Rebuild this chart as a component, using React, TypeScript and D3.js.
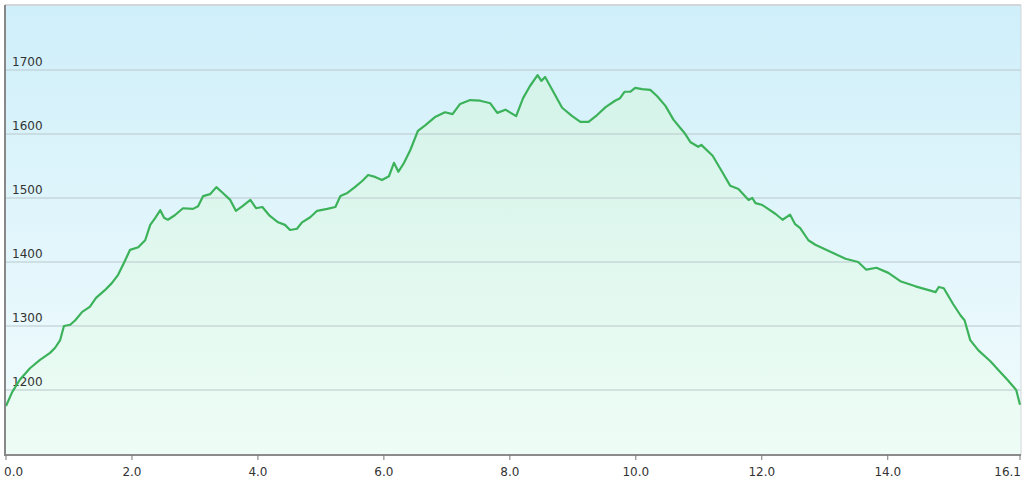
import React from "react";
import * as d3 from "d3";

const distanceKm = [
  0.0, 0.1, 0.22, 0.38, 0.54, 0.7, 0.78, 0.86, 0.92, 1.02, 1.1, 1.21, 1.33, 1.43, 1.57, 1.68, 1.78, 1.87, 1.97,
  2.1, 2.21, 2.29, 2.37, 2.45, 2.51, 2.57, 2.68, 2.81, 2.97, 3.05, 3.13, 3.24, 3.34, 3.43, 3.56, 3.65, 3.75, 3.88,
  3.97, 4.07, 4.19, 4.32, 4.43, 4.51, 4.62, 4.7, 4.83, 4.94, 5.1, 5.23, 5.31, 5.42, 5.54, 5.66, 5.75, 5.86, 5.97,
  6.08, 6.16, 6.23, 6.32, 6.42, 6.54, 6.66, 6.82, 6.97, 7.09, 7.21, 7.37, 7.53, 7.69, 7.8, 7.93, 8.1, 8.21, 8.32,
  8.44, 8.5, 8.56, 8.69, 8.83, 8.99, 9.12, 9.25, 9.39, 9.52, 9.67, 9.75, 9.82, 9.91, 9.99, 10.1, 10.23, 10.34,
  10.47, 10.6, 10.71, 10.77, 10.87, 10.99, 11.04, 11.22, 11.37, 11.5, 11.63, 11.79, 11.85, 11.9, 12.01, 12.22,
  12.33, 12.45, 12.53, 12.61, 12.74, 12.85, 13.09, 13.33, 13.53, 13.66, 13.82, 14.01, 14.2, 14.44, 14.65, 14.76,
  14.81, 14.89, 15.04, 15.16, 15.22, 15.31, 15.44, 15.63, 15.76, 15.9, 16.04, 16.1,
];

const elevationM = [
  1175, 1197, 1216, 1234, 1247, 1258, 1266, 1278, 1300, 1302, 1309, 1322, 1330, 1344, 1356, 1367, 1380, 1398, 1419,
  1423, 1434, 1458, 1469, 1481, 1469, 1466, 1473, 1484, 1483, 1487, 1503, 1506, 1517, 1509, 1497, 1480, 1487, 1497,
  1484, 1486, 1472, 1462, 1458, 1450, 1452, 1462, 1470, 1480, 1483, 1486, 1503, 1508, 1517, 1527, 1536, 1533, 1528,
  1534, 1555, 1541, 1555, 1575, 1605, 1614, 1627, 1634, 1631, 1647, 1653, 1652, 1648, 1633, 1638, 1628, 1656, 1675,
  1692, 1683, 1689, 1666, 1641, 1628, 1619, 1619, 1630, 1642, 1652, 1656, 1666, 1666, 1672, 1670, 1669, 1659,
  1644, 1622, 1609, 1602, 1587, 1580, 1583, 1566, 1541, 1519, 1514, 1497, 1500, 1492, 1489, 1475,
  1466, 1474, 1459, 1453, 1434, 1427, 1416, 1405, 1400, 1388, 1391, 1383, 1370, 1362, 1356, 1353,
  1361, 1359, 1334, 1316, 1309, 1278, 1262, 1245, 1231, 1216, 1200, 1177,
];

const xTickValues = [0, 2, 4, 6, 8, 10, 12, 14, 16.1];
const yTickValues = [1200, 1300, 1400, 1500, 1600, 1700];

const W = 1024;
const H = 482;
const left = 5;
const right = 1021;
const top = 5;
const bottom = 455;

export default function App() {
  const x = d3.scaleLinear().domain([0, 16.1]).range([6, 1020]);
  const y = d3.scaleLinear().domain([1100, 1800]).range([454, 6]);
  const pts = distanceKm.map((d, i) => [d, elevationM[i]] as [number, number]);
  const line = d3.line<[number, number]>().x((d) => x(d[0])).y((d) => y(d[1]));
  const area = d3
    .area<[number, number]>()
    .x((d) => x(d[0]))
    .y0(bottom)
    .y1((d) => y(d[1]));
  const font = "Verdana, 'DejaVu Sans', sans-serif";

  return (
    <svg
      width={W}
      height={H}
      style={{ position: "absolute", left: 0, top: 0, background: "#fff" }}
    >
      <defs>
        <linearGradient id="bg" x1="0" y1="0" x2="0" y2="1">
          <stop offset="0%" stopColor="#cfeffa" />
          <stop offset="100%" stopColor="#f3fcfd" />
        </linearGradient>
        <linearGradient id="fillG" gradientUnits="userSpaceOnUse" x1="0" y1={70} x2="0" y2={bottom}>
          <stop offset="0%" stopColor="#d4f3e9" />
          <stop offset="100%" stopColor="#eefdf5" />
        </linearGradient>
      </defs>
      <rect x={left} y={top} width={right - left} height={bottom - top} fill="url(#bg)" />
      <path d={area(pts) || ""} fill="url(#fillG)" />
      {yTickValues.map((t) => (
        <g key={t}>
          <line x1={left} x2={right} y1={y(t)} y2={y(t)} stroke="#b9c7cc" strokeWidth={1.2} />
          <text x={12} y={y(t) - 4} fontFamily={font} fontSize={12} fill="#333">
            {t}
          </text>
        </g>
      ))}
      <line x1={left} x2={right} y1={top} y2={top} stroke="#d2d6d8" strokeWidth={2} />
      <line x1={right} x2={right} y1={top} y2={bottom} stroke="#d2d6d8" strokeWidth={1} />
      <path d={line(pts) || ""} fill="none" stroke="#3cb25b" strokeWidth={2.2} strokeLinejoin="round" />
      <line x1={left} x2={left} y1={top} y2={bottom + 1} stroke="#888" strokeWidth={2} />
      <line x1={left} x2={right} y1={bottom} y2={bottom} stroke="#8c8c8c" strokeWidth={2} />
      {xTickValues.map((t, i) => {
        const anchor = i === 0 ? "start" : i === xTickValues.length - 1 ? "end" : "middle";
        const tx = i === 0 ? 4 : i === xTickValues.length - 1 ? 1021 : x(t);
        return (
          <g key={t}>
            <line x1={x(t)} x2={x(t)} y1={bottom} y2={bottom + 5} stroke="#777" strokeWidth={1} />
            <text x={tx} y={476} textAnchor={anchor} fontFamily={font} fontSize={12} fill="#333">
              {t.toFixed(1)}
            </text>
          </g>
        );
      })}
    </svg>
  );
}
